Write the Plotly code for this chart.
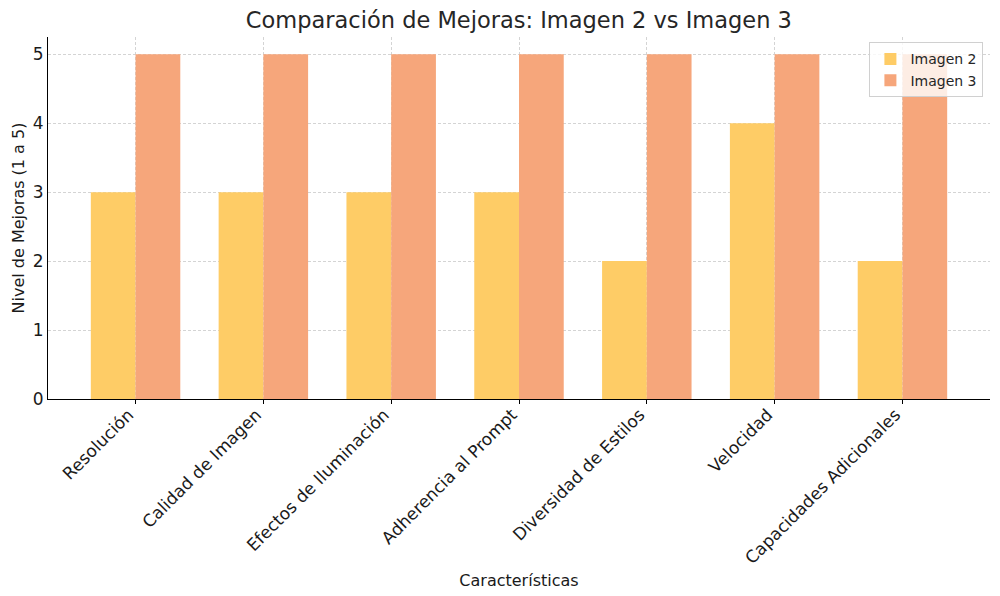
import plotly.graph_objects as go

categorias = ["Resolución", "Calidad de Imagen", "Efectos de Iluminación",
              "Adherencia al Prompt", "Diversidad de Estilos", "Velocidad",
              "Capacidades Adicionales"]
imagen2 = [3, 3, 3, 3, 2, 4, 2]
imagen3 = [5, 5, 5, 5, 5, 5, 5]

w = 0.35
idx = list(range(len(categorias)))

fig = go.Figure()
fig.add_trace(go.Bar(x=[i - w / 2 for i in idx], y=imagen2, width=w, name="Imagen 2",
                     marker=dict(color="rgb(254,204,102)", line=dict(width=0))))
fig.add_trace(go.Bar(x=[i + w / 2 for i in idx], y=imagen3, width=w, name="Imagen 3",
                     marker=dict(color="rgb(246,166,123)", line=dict(width=0))))

font = "DejaVu Sans, sans-serif"
fig.update_layout(
    width=992, height=588,
    margin=dict(l=40, r=10, t=29, b=197),
    plot_bgcolor="white", paper_bgcolor="white",
    font=dict(family=font, color="#1a1a1a", size=16),
    title=dict(text="Comparación de Mejoras: Imagen 2 vs Imagen 3", x=0.515, xanchor="center",
               y=0.98, yanchor="middle", font=dict(size=22.5, color="#262626")),
    barmode="overlay",
    showlegend=True,
    legend=dict(x=0.993, y=0.985, xanchor="right", yanchor="top",
                bgcolor="rgba(255,255,255,0.8)", bordercolor="#d0d0d0", borderwidth=1,
                font=dict(size=14, color="#262626")),
    xaxis=dict(range=[-0.685, 6.685], tickvals=idx, ticktext=categorias, tickangle=-45,
               showgrid=True, gridcolor="#d4d4d4", griddash="3px,2px", gridwidth=1,
               showline=True, linecolor="black", linewidth=1.2,
               ticks="outside", ticklen=4, tickcolor="black",
               ticklabelshift=-7, ticklabelstandoff=-6,
               tickfont=dict(size=17), layer="above traces", automargin=False,
               title=dict(text="Características", font=dict(size=16), standoff=7),
               zeroline=False),
    yaxis=dict(range=[0, 5.25], tickvals=[0, 1, 2, 3, 4, 5], showgrid=True,
               gridcolor="#d4d4d4", griddash="3px,2px", gridwidth=1,
               showline=True, linecolor="black", linewidth=1.2, ticks="",
               tickfont=dict(size=17), layer="above traces", automargin=False,
               title=dict(text="Nivel de Mejoras (1 a 5)", font=dict(size=16), standoff=4),
               zeroline=False),
)

fig.write_html("out.html")
